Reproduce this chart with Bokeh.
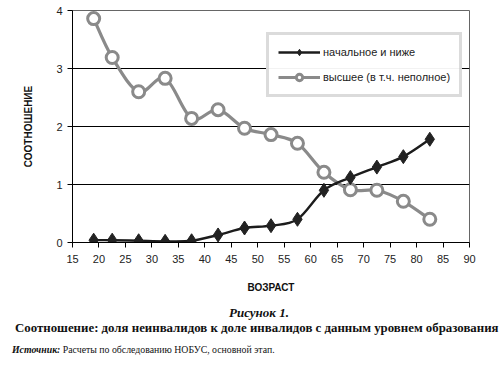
from bokeh.plotting import figure
from bokeh.models import Legend, LegendItem, FixedTicker, ColumnDataSource, Div
from bokeh.layouts import column
from bokeh.embed import file_html
from bokeh.resources import INLINE

# ---- data ----
age = [19, 22.5, 27.5, 32.5, 37.5, 42.5, 47.5, 52.5, 57.5, 62.5, 67.5, 72.5, 77.5, 82.5]
primary = [0.04, 0.04, 0.03, 0.02, 0.03, 0.13, 0.25, 0.29, 0.40, 0.90, 1.12, 1.30, 1.48, 1.78]
higher = [3.86, 3.19, 2.60, 2.83, 2.14, 2.29, 1.97, 1.86, 1.71, 1.21, 0.91, 0.90, 0.71, 0.40]
series_names = ["начальное и ниже", "высшее (в т.ч. неполное)"]
x_ticks = list(range(15, 95, 5))
y_ticks = [0, 1, 2, 3, 4]
fig_title = "Рисунок 1."
fig_subtitle = "Соотношение: доля неинвалидов к доле инвалидов с данным уровнем образования"
source_head = "Источник:"
source_text = "Расчеты по обследованию НОБУС, основной этап."

SANS = "Liberation Sans"
SERIF = "Liberation Serif"

p = figure(width=500, height=296, output_backend="svg", toolbar_location=None,
           x_range=(15, 90), y_range=(0, 4),
           min_border_left=72, min_border_right=31, min_border_top=10, min_border_bottom=54)
p.background_fill_color = "white"
p.border_fill_color = "white"
p.outline_line_color = "#666666"
p.outline_line_width = 1

p.xgrid.visible = False
p.ygrid.ticker = FixedTicker(ticks=[1, 2, 3])
p.ygrid.grid_line_color = "black"
p.ygrid.grid_line_width = 1

for ax in (p.xaxis[0], p.yaxis[0]):
    ax.axis_line_color = "black"
    ax.major_tick_line_color = "black"
    ax.minor_tick_line_color = None
    ax.major_tick_out = 5
    ax.major_tick_in = 0
    ax.major_label_text_font = SANS
    ax.major_label_text_font_size = "11px"
    ax.major_label_text_color = "#222222"
    ax.axis_label_text_font = SANS
    ax.axis_label_text_font_style = "bold"
    ax.axis_label_text_font_size = "10px"
    ax.axis_label_text_color = "#111111"

p.xaxis.ticker = FixedTicker(ticks=x_ticks)
p.yaxis.ticker = FixedTicker(ticks=y_ticks)
p.xaxis.major_label_standoff = 7
p.xaxis.axis_label = "ВОЗРАСТ"
p.xaxis.axis_label_standoff = 16
p.yaxis.major_label_standoff = 5
p.yaxis.axis_label = "СООТНОШЕНИЕ"
p.yaxis.axis_label_standoff = 19


def smooth_segments(xs, ys):
    """Excel-style smoothed line: cubic Bezier control points from neighbours."""
    n = len(xs)
    seg = dict(x0=[], y0=[], x1=[], y1=[], cx0=[], cy0=[], cx1=[], cy1=[])
    for i in range(n - 1):
        xp, yp = (xs[i - 1], ys[i - 1]) if i > 0 else (xs[i], ys[i])
        xn2, yn2 = (xs[i + 2], ys[i + 2]) if i + 2 < n else (xs[i + 1], ys[i + 1])
        seg["x0"].append(xs[i]); seg["y0"].append(ys[i])
        seg["x1"].append(xs[i + 1]); seg["y1"].append(ys[i + 1])
        seg["cx0"].append(xs[i] + (xs[i + 1] - xp) / 6)
        seg["cy0"].append(ys[i] + (ys[i + 1] - yp) / 6)
        seg["cx1"].append(xs[i + 1] - (xn2 - xs[i]) / 6)
        seg["cy1"].append(ys[i + 1] - (yn2 - ys[i]) / 6)
    return ColumnDataSource(seg)


GRAY = "#8a8a8a"
DARK = "#1c1c1c"
NAN = float("nan")

# higher education (gray, open circles)
p.bezier(x0="x0", y0="y0", x1="x1", y1="y1", cx0="cx0", cy0="cy0", cx1="cx1", cy1="cy1",
         source=smooth_segments(age, higher), line_color=GRAY, line_width=3.2)
s_hi = p.scatter(age, higher, marker="circle", size=12, fill_color="white",
                 line_color=GRAY, line_width=3)
l_hi = p.line(x=[NAN], y=[NAN], line_color=GRAY, line_width=3.2)

# primary (black, diamonds)
p.bezier(x0="x0", y0="y0", x1="x1", y1="y1", cx0="cx0", cy0="cy0", cx1="cx1", cy1="cy1",
         source=smooth_segments(age, primary), line_color=DARK, line_width=2.4)
s_pr = p.scatter(age, primary, marker="diamond", size=14, fill_color="#222222",
                 line_color="#222222", line_width=1)
l_pr = p.line(x=[NAN], y=[NAN], line_color=DARK, line_width=2.4)

legend = Legend(items=[LegendItem(label=series_names[0], renderers=[l_pr, s_pr]),
                       LegendItem(label=series_names[1], renderers=[l_hi, s_hi])],
                location=(194, 145))
legend.border_line_color = "#b8b8b8"
legend.border_line_width = 3
legend.background_fill_color = "white"
legend.label_text_font = SANS
legend.label_text_font_size = "11px"
legend.label_text_color = "#222222"
legend.glyph_width = 42
legend.glyph_height = 16
legend.label_standoff = 3
legend.spacing = 9
legend.padding = 9
legend.margin = 0
p.add_layout(legend, "center")

caption = Div(width=500, height=69, margin=0, text=f"""
<div style="position:relative;width:500px;height:69px;font-family:'{SERIF}',serif;color:#111;">
  <div style="position:absolute;left:229px;top:10px;line-height:14px;white-space:nowrap;
              font-size:13px;font-weight:bold;font-style:italic;">{fig_title}</div>
  <div style="position:absolute;left:15px;top:25px;line-height:14px;white-space:nowrap;
              font-size:12.85px;font-weight:bold;">{fig_subtitle}</div>
  <div style="position:absolute;left:12px;top:47px;line-height:14px;white-space:nowrap;
              font-size:9.8px;"><b><i>{source_head}</i></b> {source_text}</div>
</div>
""")

layout = column(p, caption, spacing=0)
open("out.html", "w").write(file_html(layout, INLINE))
